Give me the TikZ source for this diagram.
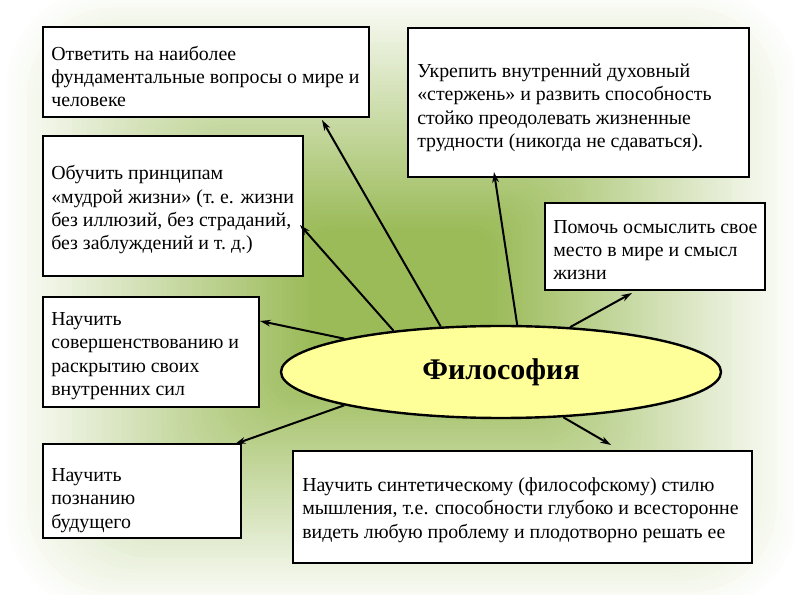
\documentclass[tikz,border=0pt]{standalone}
\usepackage{fontspec}
\setmainfont{Liberation Serif}
\usetikzlibrary{arrows.meta,shapes.geometric}
\definecolor{bggreen}{RGB}{155,187,89}
\definecolor{ellfill}{RGB}{255,255,153}
\begin{document}
\begin{tikzpicture}[x=0.75pt,y=-0.75pt,
  box/.style={draw=black,line width=1.5pt,fill=white,inner sep=0pt,rectangle},
  txt/.style={anchor=west,align=left,inner sep=0pt,font=\fontsize{14.9}{17.5}\selectfont},
  arr/.style={line width=1.5pt,-{Stealth[length=8pt,width=5pt]}}]
\useasboundingbox (0,0) rectangle (794,595);
\fill[white] (0,0) rectangle (794,595);
% background gradient
\foreach \k in {0,...,79}{
  \pgfmathsetmacro{\f}{1-\k/80}
  \pgfmathsetmacro{\p}{min(100,130*(1-\f))}
  \pgfmathsetmacro{\a}{400*\f}
  \pgfmathsetmacro{\b}{312*\f}
  \pgfmathsetmacro{\r}{0.3*\b*0.75}
  \fill[bggreen!\p!white, rounded corners=\r pt] (402-\a,300-\b) rectangle (402+\a,300+\b);
}
% boxes
\node[box,minimum width=244.5pt,minimum height=67.5pt] (b1) at (206,72) {};
\node[box,minimum width=195pt,minimum height=105pt] (b2) at (173,206) {};
\node[box,minimum width=162pt,minimum height=82.5pt] (b3) at (151,352) {};
\node[box,minimum width=148.5pt,minimum height=70.5pt] (b4) at (142,491) {};
\node[box,minimum width=344.25pt,minimum height=84pt] (b5) at (522.5,507) {};
\node[box,minimum width=255.75pt,minimum height=111.75pt] (b6) at (578.5,102.5) {};
\node[box,minimum width=165pt,minimum height=65.25pt] (b7) at (655,246.5) {};
% texts
\node[txt] (x1) at (51,76.5) {Ответить на наиболее\\фундаментальные вопросы о мире и\\человеке};
\node[txt] (x2) at (51,210) {Обучить принципам\\«мудрой жизни» (т.~е. жизни\\без иллюзий, без страданий,\\без заблуждений и т.~д.)};
\node[txt] (x3) at (51,356) {Научить\\совершенствованию и\\раскрытию своих\\внутренних сил};
\node[txt] (x4) at (51,500.5) {Научить\\познанию\\будущего};
\node[txt] (x5) at (302,510) {Научить синтетическому (философскому) стилю\\мышления, т.е. способности глубоко и всесторонне\\видеть любую проблему и плодотворно решать ее};
\node[txt] (x6) at (417,108) {Укрепить внутренний духовный\\«стержень» и развить способность\\стойко преодолевать жизненные\\трудности (никогда не сдаваться).};
\node[txt] (x7) at (553,250) {Помочь осмыслить свое\\место в мире и смысл\\жизни};
% ellipse
\node[ellipse,draw=black,line width=1.8pt,fill=ellfill,minimum width=330pt,minimum height=69pt,inner sep=0pt,font=\bfseries\fontsize{22.5}{26}\selectfont] (ph) at (501,372) {Философия};
% arrow tips
\coordinate (t1) at (322,120);
\coordinate (t2) at (300,225);
\coordinate (t3) at (260,321);
\coordinate (t4) at (235,444);
\coordinate (t5) at (611,445);
\coordinate (t6) at (494,172);
\coordinate (t7) at (632,293);
\draw[arr] (ph.143.7) -- (t1);
\draw[arr] (ph.159.3) -- (t2);
\draw[arr] (ph.168.6) -- (t3);
\draw[arr] (ph.192.5) -- (t4);
\draw[arr] (ph.324.7) -- (t5);
\draw[arr] (ph.71.9) -- (t6);
\draw[arr] (ph.33.9) -- (t7);
\end{tikzpicture}
\end{document}
